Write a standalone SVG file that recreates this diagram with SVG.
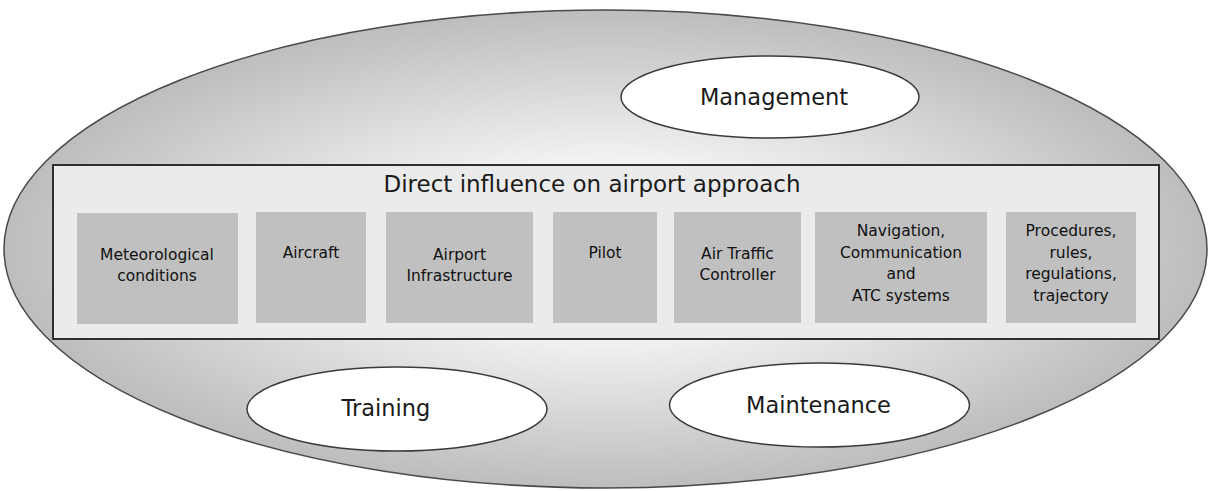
<svg xmlns="http://www.w3.org/2000/svg" width="1212" height="491" viewBox="0 0 1212 491">
  <defs>
    <radialGradient id="outerFill" cx="0.5" cy="0.5" r="0.5">
      <stop offset="0" stop-color="#ffffff"/>
      <stop offset="0.35" stop-color="#f4f4f4"/>
      <stop offset="1" stop-color="#bdbdbd"/>
    </radialGradient>
    <style>
      .outer { fill: url(#outerFill); stroke: #4a4a4a; stroke-width: 1.5; }
      .oval { fill: #ffffff; stroke: #3a3a3a; stroke-width: 1.5; }
      .frame { fill: #ebebeb; stroke: #2e2e2e; stroke-width: 2; }
      .box { fill: #c0c0c0; }
      .big { font-family: "DejaVu Sans", "Liberation Sans", sans-serif; font-size: 22.5px; fill: #1a1a1a; text-anchor: middle; }
      .title { font-family: "DejaVu Sans", "Liberation Sans", sans-serif; font-size: 23px; fill: #1a1a1a; text-anchor: middle; }
      .lbl { font-family: "DejaVu Sans", "Liberation Sans", sans-serif; font-size: 15.5px; fill: #111111; text-anchor: middle; }
    </style>
  </defs>

  <rect width="1212" height="491" fill="#ffffff"/>

  <!-- enclosing context -->
  <g id="context">
    <ellipse class="outer" cx="605.5" cy="249" rx="601.5" ry="239"/>
  </g>

  <!-- organisational factors -->
  <g id="management">
    <ellipse class="oval" cx="770" cy="97" rx="149" ry="41"/>
    <text class="big" x="774" y="105">Management</text>
  </g>
  <g id="training">
    <ellipse class="oval" cx="397" cy="409" rx="150" ry="42"/>
    <text class="big" x="386" y="416">Training</text>
  </g>
  <g id="maintenance">
    <ellipse class="oval" cx="819.5" cy="405" rx="150" ry="42"/>
    <text class="big" x="818.5" y="413">Maintenance</text>
  </g>

  <!-- direct influence frame -->
  <g id="direct-influence">
    <rect class="frame" x="53" y="165" width="1106" height="174"/>
    <text class="title" x="592" y="192">Direct influence on airport approach</text>
  </g>

  <g id="meteo">
    <rect class="box" x="77" y="213" width="161" height="111"/>
    <text class="lbl" x="157" y="260"><tspan x="157">Meteorological</tspan><tspan x="157" dy="21">conditions</tspan></text>
  </g>
  <g id="aircraft">
    <rect class="box" x="256" y="212" width="110" height="111"/>
    <text class="lbl" x="311" y="258">Aircraft</text>
  </g>
  <g id="airport">
    <rect class="box" x="386" y="212" width="147" height="111"/>
    <text class="lbl" x="459.5" y="260"><tspan x="459.5">Airport</tspan><tspan x="459.5" dy="21">Infrastructure</tspan></text>
  </g>
  <g id="pilot">
    <rect class="box" x="553" y="212" width="104" height="111"/>
    <text class="lbl" x="605" y="258">Pilot</text>
  </g>
  <g id="atc">
    <rect class="box" x="674" y="212" width="127" height="111"/>
    <text class="lbl" x="737.5" y="259"><tspan x="737.5">Air Traffic</tspan><tspan x="737.5" dy="21">Controller</tspan></text>
  </g>
  <g id="systems">
    <rect class="box" x="815" y="212" width="172" height="111"/>
    <text class="lbl" x="901" y="236"><tspan x="901">Navigation,</tspan><tspan x="901" dy="21.5">Communication</tspan><tspan x="901" dy="21.5">and</tspan><tspan x="901" dy="21.5">ATC systems</tspan></text>
  </g>
  <g id="procedures">
    <rect class="box" x="1006" y="212" width="130" height="111"/>
    <text class="lbl" x="1071" y="236"><tspan x="1071">Procedures,</tspan><tspan x="1071" dy="21.5">rules,</tspan><tspan x="1071" dy="21.5">regulations,</tspan><tspan x="1071" dy="21.5">trajectory</tspan></text>
  </g>

  <!-- no connectors in this figure -->
  <g id="connectors"/>
</svg>
